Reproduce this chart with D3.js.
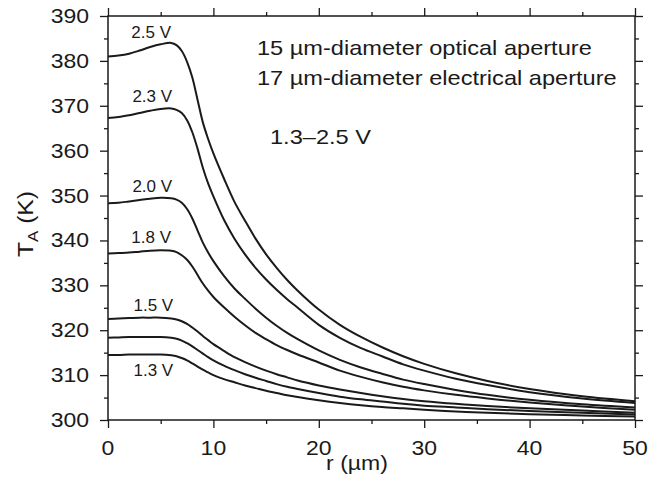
<!DOCTYPE html>
<html>
<head>
<meta charset="utf-8">
<script src="https://cdn.jsdelivr.net/npm/d3@7"></script>
<style>
  body { margin: 0; background: white; }
  svg { display: block; }
  text { font-family: "Liberation Sans", Arial, sans-serif; fill: #1a1a1a; }
</style>
</head>
<body>
<div id="container"></div>
<script>
// Data =====================================================
var rValues = [0,1,2,3,4,5,6,6.5,7,7.5,8,8.5,9,9.5,10,11,12,13,14,15,16,17,18,20,22,24,26,28,30,33,36,40,45,50];

var t25 = [381.0,381.2,381.6,382.3,383.1,383.7,384.0,383.5,382.2,379.8,376.3,371.3,366.3,362.6,359.4,353.8,348.6,344.4,340.4,336.9,333.9,331.2,328.8,324.6,321.2,318.5,316.2,314.2,312.5,310.4,308.7,306.9,305.3,304.2];
var t23 = [367.3,367.5,367.9,368.4,368.9,369.3,369.4,369.1,368.4,366.8,364.1,360.4,356.2,352.7,349.8,344.6,340.4,336.9,333.9,331.3,329.0,326.9,325.0,321.2,318.3,316.0,314.2,312.4,311.0,309.2,307.8,306.2,304.8,303.8];
var t20 = [348.3,348.4,348.7,349.0,349.3,349.5,349.4,349.1,348.4,347.0,344.9,342.2,339.5,337.3,335.4,332.1,329.3,327.0,324.8,322.8,321.0,319.4,318.0,315.5,313.4,311.7,310.3,309.0,308.0,306.7,305.6,304.5,303.5,302.8];
var t18 = [337.1,337.2,337.3,337.5,337.7,337.8,337.7,337.4,336.7,335.7,334.2,332.3,330.4,328.8,327.4,325.1,323.0,321.1,319.4,318.0,316.7,315.6,314.6,312.8,311.0,309.6,308.4,307.4,306.6,305.6,304.8,303.9,303.0,302.3];
var t15 = [322.5,322.6,322.7,322.8,322.8,322.8,322.6,322.4,322.0,321.4,320.6,319.7,318.7,317.8,316.9,315.4,314.0,312.9,311.9,311.0,310.2,309.5,308.8,307.7,306.8,306.0,305.3,304.7,304.2,303.6,303.1,302.6,302.1,301.6];
var t14 = [318.3,318.4,318.5,318.5,318.5,318.5,318.3,318.1,317.7,317.1,316.4,315.6,314.8,314.0,313.3,312.1,311.1,310.2,309.4,308.7,308.0,307.4,306.9,306.0,305.2,304.6,304.1,303.6,303.2,302.8,302.4,302.0,301.6,301.2];
var t13 = [314.5,314.5,314.6,314.6,314.6,314.6,314.4,314.2,313.8,313.3,312.6,311.9,311.2,310.6,310.0,309.1,308.4,307.7,307.1,306.5,306.0,305.5,305.1,304.4,303.8,303.3,302.9,302.6,302.3,301.9,301.6,301.3,301.0,300.8];

var seriesList = [t25, t23, t20, t18, t15, t14, t13];

// curve labels, placed over the plateau
var labelText = ["2.5 V","2.3 V","2.0 V","1.8 V","1.5 V","1.3 V"];
var labelR    = [4.1, 4.2, 4.2, 4.1, 4.3, 4.3];
var labelT    = [385.1, 370.8, 350.8, 339.4, 324.3, 309.8];

var notes = ["15 \u00b5m-diameter optical aperture","17 \u00b5m-diameter electrical aperture","1.3\u20132.5 V"];
// ===========================================================

var w = 661, h = 486;
var stretch = 1.15;

var svg = d3.select("#container")
            .append("svg")
            .attr("width", w)
            .attr("height", h);

var x = d3.scaleLinear().domain([0,50]).range([108,635]);
var y = d3.scaleLinear().domain([300,390]).range([420,16]);

// Axes =====================================================
function axisStyle(g){
    g.select(".domain").remove();
    g.selectAll("line").attr("stroke","#1a1a1a").attr("stroke-width",1.3);
}

var majX = d3.range(0,51,10), minX = d3.range(5,50,10);
var majY = d3.range(300,391,10), minY = d3.range(305,390,10);

svg.append("g").attr("transform","translate(0,420)")
   .call(d3.axisBottom(x).tickValues(majX).tickSize(8).tickFormat("")).call(axisStyle);
svg.append("g").attr("transform","translate(0,420)")
   .call(d3.axisBottom(x).tickValues(minX).tickSize(4).tickFormat("")).call(axisStyle);
svg.append("g").attr("transform","translate(0,16)")
   .call(d3.axisTop(x).tickValues(majX).tickSize(8).tickFormat("")).call(axisStyle);
svg.append("g").attr("transform","translate(0,16)")
   .call(d3.axisTop(x).tickValues(minX).tickSize(4).tickFormat("")).call(axisStyle);
svg.append("g").attr("transform","translate(108,0)")
   .call(d3.axisLeft(y).tickValues(majY).tickSize(8).tickFormat("")).call(axisStyle);
svg.append("g").attr("transform","translate(108,0)")
   .call(d3.axisLeft(y).tickValues(minY).tickSize(4).tickFormat("")).call(axisStyle);
svg.append("g").attr("transform","translate(635,0)")
   .call(d3.axisRight(y).tickValues(majY).tickSize(8).tickFormat("")).call(axisStyle);
svg.append("g").attr("transform","translate(635,0)")
   .call(d3.axisRight(y).tickValues(minY).tickSize(4).tickFormat("")).call(axisStyle);

svg.append("rect")
   .attr("x",108).attr("y",16)
   .attr("width",635-108).attr("height",420-16)
   .attr("fill","none").attr("stroke","#1a1a1a").attr("stroke-width",1.5);

// tick labels
svg.selectAll(".ylab").data(majY).enter().append("text")
   .attr("class","ylab")
   .attr("transform", function(d){ return "translate(89," + (y(d)+7) + ") scale(" + stretch + ",1)"; })
   .attr("text-anchor","end")
   .style("font-size","20px")
   .text(function(d){ return d; });

svg.selectAll(".xlab").data(majX).enter().append("text")
   .attr("class","xlab")
   .attr("transform", function(d){ return "translate(" + x(d) + ",455) scale(" + stretch + ",1)"; })
   .attr("text-anchor","middle")
   .style("font-size","20px")
   .text(function(d){ return d; });

// axis titles
svg.append("text")
   .attr("transform","translate(357,470) scale(" + stretch + ",1)")
   .attr("text-anchor","middle")
   .style("font-size","20px")
   .text("r (\u00b5m)");

var yt = svg.append("text")
   .attr("transform","translate(33,224) rotate(-90) scale(1.12,1)")
   .attr("text-anchor","middle")
   .style("font-size","22px");
yt.append("tspan").text("T");
yt.append("tspan").attr("dy",5).style("font-size","15px").text("A");
yt.append("tspan").attr("dy",-5).text(" (K)");
// ===========================================================

// Curves =====================================================
var line = d3.line()
    .x(function(d,i){ return x(rValues[i]); })
    .y(function(d){ return y(d); })
    .curve(d3.curveCatmullRom.alpha(0.5));

svg.selectAll(".curve").data(seriesList).enter().append("path")
   .attr("class","curve")
   .attr("d", line)
   .attr("fill","none")
   .attr("stroke","#1a1a1a")
   .attr("stroke-width",2);

svg.selectAll(".clabel").data(labelText).enter().append("text")
   .attr("class","clabel")
   .attr("x", function(d,i){ return x(labelR[i]); })
   .attr("y", function(d,i){ return y(labelT[i]); })
   .attr("text-anchor","middle")
   .style("font-size","17px")
   .text(function(d){ return d; });

// notes
var noteX = [257, 257, 270], noteY = [55, 85, 144];
svg.selectAll(".note").data(notes).enter().append("text")
   .attr("class","note")
   .attr("transform", function(d,i){ return "translate(" + noteX[i] + "," + noteY[i] + ") scale(1.18,1)"; })
   .style("font-size","20px")
   .text(function(d){ return d; });
// ===========================================================
</script>
</body>
</html>
